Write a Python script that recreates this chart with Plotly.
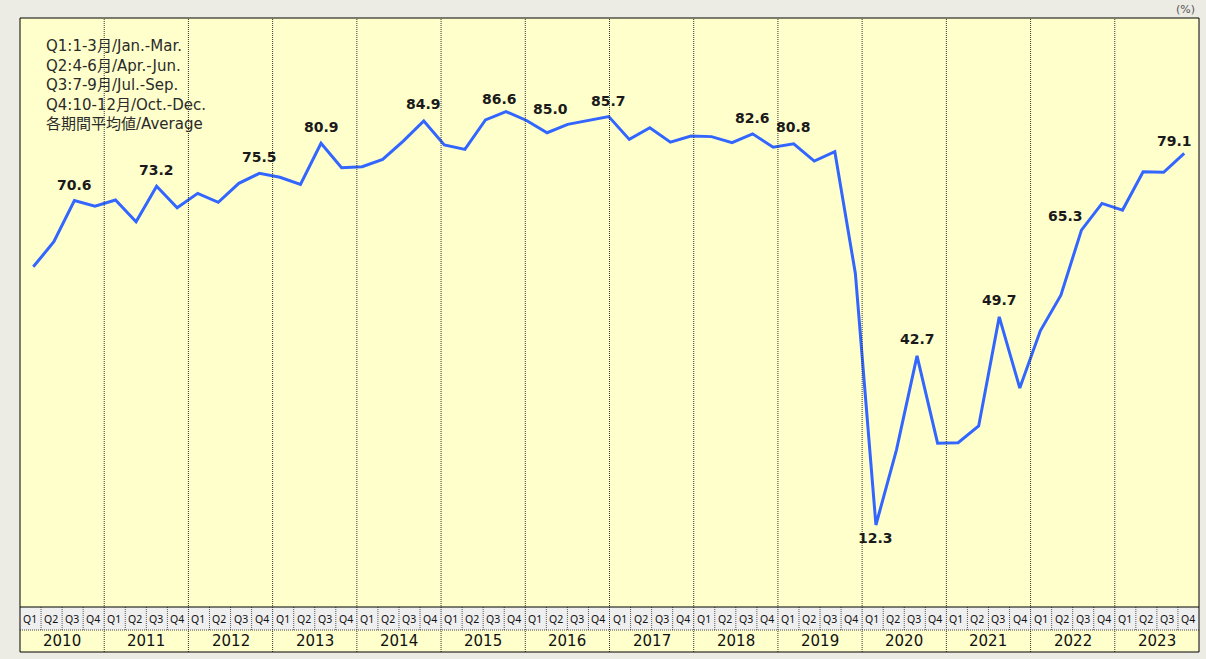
import plotly.graph_objects as go

# ---------------- data ----------------
years = [str(y) for y in range(2010, 2024)]
quarters = ["Q1", "Q2", "Q3", "Q4"]

# quarterly average occupancy rate (%)
occupancy = [
    58.7, 63.2, 70.6, 69.6, 70.7, 66.8, 73.2, 69.3, 71.9, 70.3,
    73.7, 75.5, 74.8, 73.5, 80.9, 76.5, 76.7, 78.0, 81.3, 84.9,
    80.6, 79.8, 85.1, 86.6, 85.0, 82.8, 84.3, 85.0, 85.7, 81.6,
    83.7, 81.1, 82.2, 82.1, 81.0, 82.6, 80.2, 80.8, 77.7, 79.4,
    57.5, 12.3, 25.8, 42.7, 27.0, 27.1, 30.1, 49.7, 36.9, 47.2,
    53.6, 65.3, 70.1, 68.9, 75.8, 75.7, 79.1,
]
# indices of the points that carry a value label
labelled_points = [2, 6, 11, 14, 19, 23, 24, 28, 35, 37, 41, 43, 47, 51, 56]

legend_lines = [
    "Q1:1-3月/Jan.-Mar.",
    "Q2:4-6月/Apr.-Jun.",
    "Q3:7-9月/Jul.-Sep.",
    "Q4:10-12月/Oct.-Dec.",
    "各期間平均値/Average",
]
unit_label = "(%)"

# ---------------- styling / layout ----------------
W, H = 1206, 659
ML, MR, MT, MB = 20, 7, 18, 52
plot_h = H - MT - MB
q_row_bottom = -(630 - (H - MB)) / plot_h
year_row_bottom = -(652 - (H - MB)) / plot_h

FONT = "DejaVu Sans, Noto Sans CJK JP, sans-serif"
QFONT = "Noto Sans, DejaVu Sans, sans-serif"
LINE_COLOR = "#3366ff"
DOT = "1px,1px"

# label offsets (pixels) : (dx, dy)
label_offsets = {
    2: (0, 16), 6: (0, 16), 11: (0, 16), 14: (0, 16), 19: (0, 17),
    23: (-6, 13), 24: (24, 11), 28: (0, 16), 35: (0, 16), 37: (0, 17),
    41: (0, -13), 43: (0, 17), 47: (0, 17), 51: (-16, 14), 56: (-10, 12),
}

n_q = len(years) * len(quarters)

fig = go.Figure()
# invisible trace to anchor the quarter axis
fig.add_trace(go.Scatter(
    x=list(range(n_q)), y=[None] * n_q, mode="markers",
    xaxis="x", yaxis="y", showlegend=False, hoverinfo="skip",
))
# the occupancy line
fig.add_trace(go.Scatter(
    x=list(range(len(occupancy))), y=occupancy, mode="lines",
    xaxis="x2", yaxis="y", showlegend=False, hoverinfo="skip",
    line=dict(color=LINE_COLOR, width=3),
))

shapes = []
annotations = []

# backgrounds of the table rows
shapes.append(dict(type="rect", xref="paper", yref="paper", x0=0, x1=1,
                   y0=q_row_bottom, y1=0, fillcolor="#efefef",
                   line=dict(width=0), layer="below"))
shapes.append(dict(type="rect", xref="paper", yref="paper", x0=0, x1=1,
                   y0=year_row_bottom, y1=q_row_bottom, fillcolor="#ffffcc",
                   line=dict(width=0), layer="below"))

# year dividers (full height)
for k in range(1, len(years)):
    xv = k * len(quarters) - 0.5
    shapes.append(dict(type="line", xref="x", yref="paper", x0=xv, x1=xv,
                       y0=year_row_bottom, y1=1,
                       line=dict(color="#333333", width=1, dash=DOT)))
# quarter separators in the Q row
for i in range(1, n_q):
    if i % len(quarters) == 0:
        continue
    xv = i - 0.5
    shapes.append(dict(type="line", xref="x", yref="paper", x0=xv, x1=xv,
                       y0=q_row_bottom, y1=0,
                       line=dict(color="#555555", width=1, dash=DOT)))
# horizontal separators
shapes.append(dict(type="line", xref="paper", yref="paper", x0=0, x1=1,
                   y0=q_row_bottom, y1=q_row_bottom,
                   line=dict(color="#444444", width=1, dash=DOT)))
shapes.append(dict(type="line", xref="paper", yref="paper", x0=0, x1=1,
                   y0=0, y1=0, line=dict(color="#000000", width=1)))
# outer frame
shapes.append(dict(type="rect", xref="paper", yref="paper", x0=0, x1=1,
                   y0=year_row_bottom, y1=1,
                   line=dict(color="#000000", width=1)))

# quarter labels
for i in range(n_q):
    annotations.append(dict(
        x=i - 0.5, xref="x", y=q_row_bottom / 2, yref="paper",
        text=quarters[i % len(quarters)], showarrow=False,
        xanchor="left", yanchor="middle", xshift=1,
        font=dict(family=QFONT, size=10.5, color="#111111"),
    ))
# year labels
for k, yr in enumerate(years):
    annotations.append(dict(
        x=k * len(quarters) + 1.5, xref="x",
        y=(q_row_bottom + year_row_bottom) / 2, yref="paper",
        text=yr, showarrow=False, xanchor="center", yanchor="middle",
        font=dict(family=FONT, size=15, color="#111111"),
    ))
# value labels
for j in labelled_points:
    dx, dy = label_offsets[j]
    annotations.append(dict(
        x=j, xref="x2", y=occupancy[j], yref="y",
        text=f"{occupancy[j]:.1f}", showarrow=False,
        xanchor="center", yanchor="middle", xshift=dx, yshift=dy,
        font=dict(family=FONT, size=14, color="#1a1a1a", weight="bold"),
    ))
# legend text block
annotations.append(dict(
    x=(44 - ML) / (W - ML - MR), xref="paper", y=1 - (34.5 - MT) / plot_h,
    yref="paper", text="<br>".join(legend_lines), showarrow=False,
    xanchor="left", yanchor="top", align="left",
    font=dict(family=FONT, size=15, color="#2a2a2a"),
))
# unit
annotations.append(dict(
    x=1, xref="paper", y=1, yref="paper", text=unit_label, showarrow=False,
    xanchor="right", yanchor="bottom", xshift=-2, yshift=0,
    font=dict(family=FONT, size=11, color="#555555"),
))

fig.update_layout(
    width=W, height=H,
    margin=dict(l=ML, r=MR, t=MT, b=MB, pad=0),
    paper_bgcolor="#ecebe4", plot_bgcolor="#ffffcc",
    showlegend=False,
    xaxis=dict(range=[-0.5, n_q - 0.5], visible=False, fixedrange=True),
    xaxis2=dict(range=[-0.647, 56.72], overlaying="x", anchor="y",
                visible=False, fixedrange=True),
    yaxis=dict(range=[-2.44, 103.42], visible=False, fixedrange=True),
    shapes=shapes, annotations=annotations,
    font=dict(family=FONT),
)

fig.write_html(
    "out.html",
    config={"displayModeBar": False},
    post_script="document.body.style.margin='0px';document.body.style.overflow='hidden';",
)
